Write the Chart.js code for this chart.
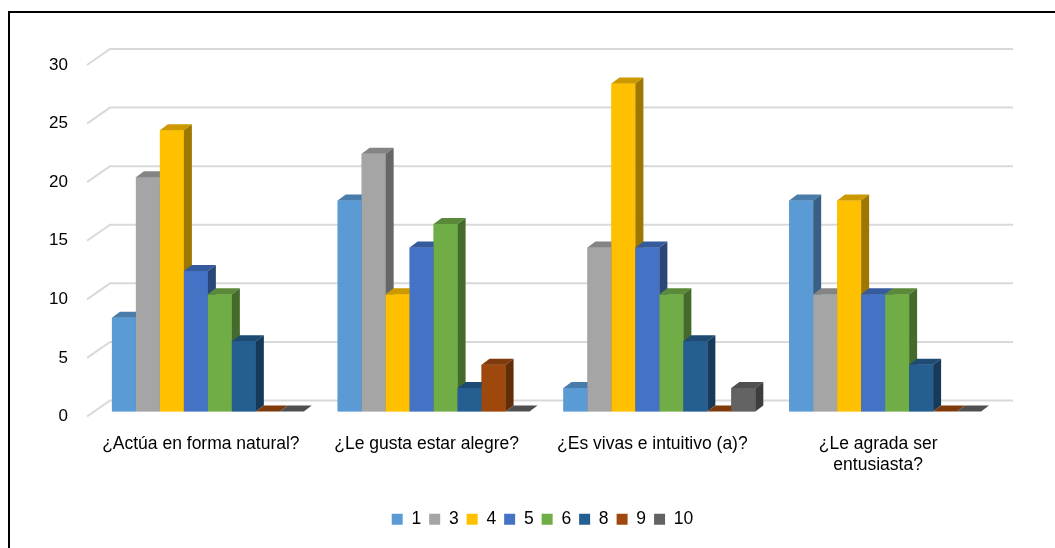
<!DOCTYPE html>
<html>
<head>
<meta charset="utf-8">
<script src="https://cdn.jsdelivr.net/npm/chart.js@4.4.1/dist/chart.umd.min.js"></script>
<style>
  html, body { margin: 0; padding: 0; background: #fff; overflow: hidden; }
  #wrap { position: relative; width: 1055px; height: 548px; }
  #frame { position: absolute; left: 8px; top: 11px; width: 1100px; height: 600px;
           border: 2px solid #000; box-sizing: border-box; pointer-events: none; }
</style>
</head>
<body>
<div id="wrap">
  <canvas id="chart"></canvas>
  <div id="frame"></div>
</div>
<script>
const categories = ['¿Actúa en forma natural?', '¿Le gusta estar alegre?', '¿Es vivas e intuitivo (a)?', ['¿Le agrada ser', 'entusiasta?']];
const seriesNames = ['1', '3', '4', '5', '6', '8', '9', '10'];
const s1  = [8, 18, 2, 18];
const s3  = [20, 22, 14, 10];
const s4  = [24, 10, 28, 18];
const s5  = [12, 14, 14, 10];
const s6  = [10, 16, 10, 10];
const s8  = [6, 2, 6, 4];
const s9  = [0, 4, 0, 0];
const s10 = [0, 0, 2, 0];
const yTicks = [0, 5, 10, 15, 20, 25, 30];

const seriesValues = [s1, s3, s4, s5, s6, s8, s9, s10];
const colors = ['#5B9BD5', '#A5A5A5', '#FFC000', '#4472C4', '#70AD47', '#255E91', '#9E480E', '#636363'];
const FONT = "'Liberation Sans', Arial, sans-serif";

function shade(hex, f) {
  const n = parseInt(hex.slice(1), 16);
  const r = Math.round(((n >> 16) & 255) * f), g = Math.round(((n >> 8) & 255) * f), b = Math.round((n & 255) * f);
  return 'rgb(' + r + ',' + g + ',' + b + ')';
}

// perspective grid: front stub + back wall lines
const grid3d = {
  id: 'grid3d',
  beforeDatasetsDraw(chart) {
    const ctx = chart.ctx, y = chart.scales.y, area = chart.chartArea;
    ctx.save();
    ctx.strokeStyle = '#d9d9d9';
    ctx.lineWidth = 2;
    yTicks.forEach(function(v) {
      const py = y.getPixelForValue(v);
      ctx.beginPath();
      ctx.moveTo(area.left - 8, py + 5);
      ctx.lineTo(area.left + 15, py - 11);
      ctx.lineTo(area.right + 15, py - 11);
      ctx.stroke();
    });
    ctx.restore();
  }
};

// redraw bars with top and side faces, left to right
const bars3d = {
  id: 'bars3d',
  afterDatasetsDraw(chart) {
    const ctx = chart.ctx, dx = 8, dy = 6;
    ctx.save();
    chart.data.datasets.forEach(function(ds, i) {
      const meta = chart.getDatasetMeta(i);
      const c = colors[i];
      meta.data.forEach(function(bar) {
        const p = bar.getProps(['x', 'y', 'base', 'width'], true);
        const l = p.x - p.width / 2, r = p.x + p.width / 2;
        ctx.fillStyle = c;
        ctx.fillRect(l, p.y, p.width, p.base - p.y);
        ctx.fillStyle = shade(c, 0.8);
        ctx.beginPath();
        ctx.moveTo(l, p.y); ctx.lineTo(l + dx, p.y - dy); ctx.lineTo(r + dx, p.y - dy); ctx.lineTo(r, p.y);
        ctx.closePath(); ctx.fill();
        ctx.fillStyle = shade(c, 0.62);
        ctx.beginPath();
        ctx.moveTo(r, p.y); ctx.lineTo(r + dx, p.y - dy); ctx.lineTo(r + dx, p.base - dy); ctx.lineTo(r, p.base);
        ctx.closePath(); ctx.fill();
      });
    });
    ctx.restore();
  }
};

const datasets = seriesNames.map(function(name, i) {
  return { label: name, data: seriesValues[i], backgroundColor: colors[i], borderWidth: 0,
           barPercentage: 1.0, categoryPercentage: 0.85 };
});

Chart.defaults.font.family = FONT;
Chart.defaults.font.size = 17;
Chart.defaults.color = '#000';

new Chart(document.getElementById('chart'), {
  type: 'bar',
  data: { labels: categories, datasets: datasets },
  options: {
    responsive: true,
    maintainAspectRatio: false,
    animation: false,
    layout: { padding: { left: 30, right: 0, top: 60, bottom: 10 } },
    plugins: {
      tooltip: { enabled: false },
      legend: {
        position: 'bottom',
        labels: { boxWidth: 11, boxHeight: 11, padding: 8, font: { size: 17.5 } }
      }
    },
    scales: {
      x: {
        grid: { display: false, drawTicks: false },
        border: { display: false },
        ticks: { padding: 22, labelOffset: -7, maxRotation: 0, autoSkip: false, font: { size: 17.5, lineHeight: 1.2 } },
        afterFit: function(s) { s.height = 91; }
      },
      y: {
        min: 0, max: 30,
        grid: { display: false, drawTicks: false },
        border: { display: false },
        afterBuildTicks: function(s) { s.ticks = yTicks.map(function(v) { return { value: v }; }); },
        ticks: { padding: 27, labelOffset: 5, font: { size: 17 } },
        afterFit: function(s) { s.width = 65; }
      },
      yRight: {
        position: 'right',
        min: 0, max: 30,
        grid: { display: false, drawTicks: false },
        border: { display: false },
        ticks: { display: false },
        afterFit: function(s) { s.width = 57; }
      }
    }
  },
  plugins: [grid3d, bars3d]
});
</script>
</body>
</html>
